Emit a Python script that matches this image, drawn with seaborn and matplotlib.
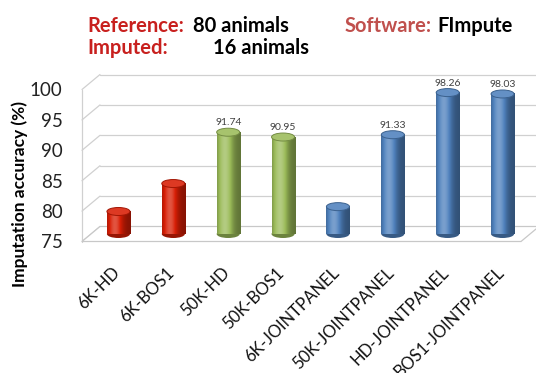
import numpy as np
import pandas as pd
import matplotlib
matplotlib.use("Agg")
import matplotlib.pyplot as plt
from matplotlib.patches import Ellipse, Polygon
import matplotlib.transforms as mtransforms
import seaborn as sns

# ---- data -------------------------------------------------------------
panels = ["6K-HD", "6K-BOS1", "50K-HD", "50K-BOS1", "6K-JOINTPANEL",
          "50K-JOINTPANEL", "HD-JOINTPANEL", "BOS1-JOINTPANEL"]
accuracy = [78.7, 83.3, 91.74, 90.95, 79.5, 91.33, 98.26, 98.03]
groups = ["6K", "6K", "50K", "50K", "JOINT", "JOINT", "JOINT", "JOINT"]
value_labels = [None, None, "91.74", "90.95", None, "91.33", "98.26", "98.03"]
yticks = [75, 80, 85, 90, 95, 100]

group_colors = {"6K": "#D81E05", "50K": "#9BBB59", "JOINT": "#4F81BD"}

df = pd.DataFrame({"panel": panels, "acc": accuracy, "group": groups})

sns.set_theme(style="white")
plt.rcParams["font.family"] = ["Lato", "DejaVu Sans"]

W, H = 536, 373
fig = plt.figure(figsize=(W / 100, H / 100), dpi=100)
ax_l, ax_r, ax_b, ax_t = 91, 530, 234, 82
ax = fig.add_axes([ax_l / W, 1 - ax_b / H, (ax_r - ax_l) / W, (ax_b - ax_t) / H])

BAR_W = 0.42
sns.barplot(data=df, x="panel", y="acc", hue="group", palette=group_colors,
            dodge=False, width=BAR_W, saturation=1, legend=False, ax=ax)

ymin, ymax = 75, 100
ax.set_xlim(-0.5, len(panels) - 0.5)
ax.set_ylim(ymin, ymax)

# pseudo-3D depth offsets (in data units)
px_per_cat = (ax_r - ax_l) / len(panels)
px_per_unit = (ax_b - ax_t) / (ymax - ymin)
DX = 9 / px_per_cat
DY = 7.5 / px_per_unit
EH = 8 / px_per_unit  # ellipse height of cylinder caps

grid_c = "#D0D0D0"
x0, x1 = -0.5, len(panels) - 0.5
# floor
ax.add_patch(Polygon([(x0 - DX, ymin - DY), (x1 - DX, ymin - DY),
                      (x1 + DX, ymin + DY), (x0 + DX, ymin + DY)],
                     closed=True, facecolor="white", edgecolor="#C8C8C8",
                     lw=0.9, zorder=0.5, clip_on=False))
# back wall gridlines and left wall diagonals
for v in yticks:
    ax.plot([x0 + DX, x1 + 0.15], [v + DY, v + DY], color=grid_c, lw=0.9,
            zorder=0.4, clip_on=False)
    ax.plot([x0 - DX, x0 + DX], [v - DY, v + DY], color=grid_c, lw=0.9,
            zorder=0.4, clip_on=False)
ax.plot([x0 - DX, x0 - DX], [ymin - DY, ymax - DY], color=grid_c, lw=0.9,
        zorder=0.4, clip_on=False)


def shade(rgb, f):
    rgb = np.asarray(rgb)
    if f >= 1:
        return rgb + (1 - rgb) * min(f - 1, 1)
    return rgb * f


# cylinders over the seaborn bars
t = np.linspace(0, 1, 64)
profile = 0.62 + 0.62 * np.exp(-((t - 0.33) / 0.32) ** 2)
for patch in list(ax.patches):
    if not hasattr(patch, "get_width") or patch.get_height() <= 0:
        continue
    xl = patch.get_x()
    w = patch.get_width()
    xc = xl + w / 2
    i = int(round(xc))
    val = accuracy[i]
    base = np.array(matplotlib.colors.to_rgb(group_colors[groups[i]]))
    patch.set_visible(False)
    img = np.array([[shade(base, f) for f in profile]])
    img = np.clip(img, 0, 1)
    ax.imshow(img, extent=[xl, xl + w, ymin, val], aspect="auto",
              interpolation="bilinear", zorder=2, clip_on=False)
    ax.add_patch(Ellipse((xc, ymin), w, EH, facecolor=shade(base, 0.7),
                         edgecolor="none", zorder=1.9, clip_on=False))
    ax.add_patch(Ellipse((xc, val), w, EH, facecolor=shade(base, 1.12),
                         edgecolor=shade(base, 0.75), lw=0.7, zorder=3,
                         clip_on=False))
    if value_labels[i]:
        ax.text(xc, val + EH / 2 + 0.15, value_labels[i], ha="center",
                va="bottom", fontsize=7.5, color="#404040", zorder=4)

ax.set_xlim(-0.5, len(panels) - 0.5)
ax.set_ylim(ymin, ymax)
for s in ax.spines.values():
    s.set_visible(False)
ax.set_facecolor("none")

# y ticks on the front plane
ax.set_yticks(yticks)
ax.set_yticklabels([str(v) for v in yticks], fontsize=13.5, color="#222222")
ax.tick_params(axis="y", length=0, pad=14)
shift_y = mtransforms.ScaledTranslation(-9 / 100, -7.5 / 100, fig.dpi_scale_trans)
for lab in ax.get_yticklabels():
    lab.set_transform(lab.get_transform() + shift_y)
ax.set_ylabel("Imputation accuracy (%)", fontsize=12.5, fontweight="bold",
              color="black")
ax.yaxis.set_label_coords(-0.1435, 0.26)

ax.set_xlabel("")
ax.set_xticks(range(len(panels)))
ax.set_xticklabels(panels, rotation=45, ha="right", rotation_mode="anchor",
                   fontsize=12, color="#111111")
ax.tick_params(axis="x", length=0, pad=22)
shift_x = mtransforms.ScaledTranslation(-7 / 100, 0, fig.dpi_scale_trans)
for lab in ax.get_xticklabels():
    lab.set_transform(lab.get_transform() + shift_x)

# header annotations
hdr = dict(fontsize=14.5, fontweight="bold", va="baseline")
fig.text(87 / W, 1 - 32 / H, "Reference:", color="#C8201E", **hdr)
fig.text(193 / W, 1 - 32 / H, "80 animals", color="black", **hdr)
fig.text(87 / W, 1 - 54 / H, "Imputed:", color="#C8201E", **hdr)
fig.text(213 / W, 1 - 54 / H, "16 animals", color="black", **hdr)
fig.text(345 / W, 1 - 32 / H, "Software:", color="#C0504D", **hdr)
fig.text(437 / W, 1 - 32 / H, "FImpute", color="black", **hdr)

fig.savefig("out.png", dpi=100, facecolor="white")
